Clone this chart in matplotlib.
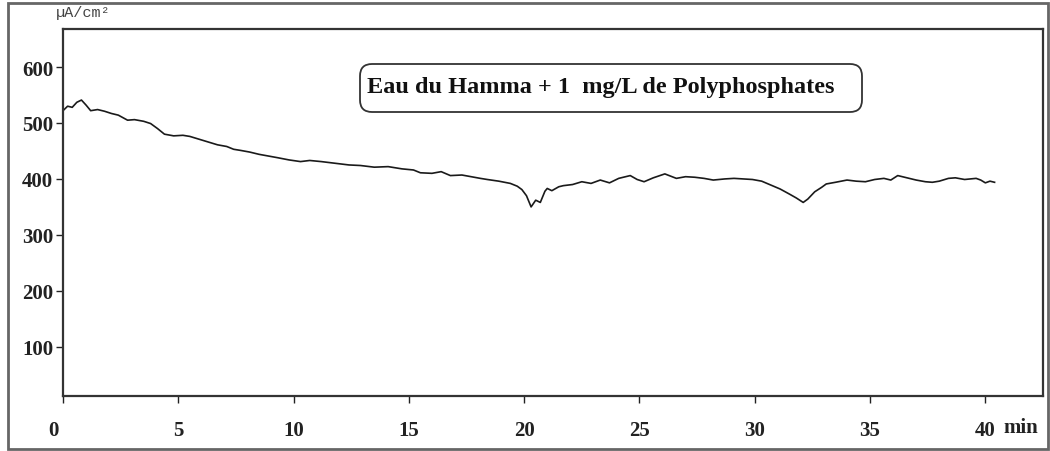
import matplotlib.pyplot as plt
from matplotlib.patches import Rectangle, FancyBboxPatch
from matplotlib.transforms import ScaledTranslation

# current density recorded over time (min, uA/cm2)
time_min = [0.0, 0.2, 0.4, 0.6, 0.8, 1.0, 1.2, 1.5, 1.8, 2.1, 2.4, 2.8, 3.1, 3.5, 3.8,
            4.1, 4.4, 4.8, 5.2, 5.5, 5.9, 6.3, 6.7, 7.1, 7.4, 7.7, 8.1, 8.5, 8.9, 9.3,
            9.8, 10.3, 10.7, 11.2, 11.8, 12.4, 12.9, 13.5, 14.1, 14.7, 15.2, 15.5,
            16.0, 16.4, 16.8, 17.3, 17.7, 18.1, 18.4, 18.9, 19.4, 19.7, 19.9, 20.1,
            20.3, 20.5, 20.7, 20.9, 21.0, 21.2, 21.5, 21.7, 22.1, 22.5, 22.9, 23.3,
            23.7, 24.1, 24.6, 24.9, 25.2, 25.6, 26.1, 26.6, 27.0, 27.4, 27.8, 28.2,
            28.7, 29.1, 29.5, 29.9, 30.3, 30.7, 31.1, 31.5, 31.8, 32.1, 32.3, 32.6,
            32.9, 33.1, 33.5, 34.0, 34.4, 34.8, 35.2, 35.6, 35.9, 36.2, 36.6, 37.0,
            37.4, 37.7, 38.0, 38.4, 38.7, 39.1, 39.6, 39.8, 40.0, 40.2, 40.4]
current = [522, 530, 528, 537, 541, 532, 522, 524, 521, 517, 514, 505, 506, 503, 499,
           490, 480, 477, 478, 476, 471, 466, 461, 458, 453, 451, 448, 444, 441, 438,
           434, 431, 433, 431, 428, 425, 424, 421, 422, 418, 416, 411,
           410, 413, 406, 407, 404, 401, 399, 396, 392, 387, 381, 370,
           350, 362, 358, 378, 383, 379, 386, 388, 390, 395, 392, 398,
           393, 401, 406, 399, 395, 402, 409, 401, 404, 403, 401, 398,
           400, 401, 400, 399, 396, 389, 382, 373, 366, 358, 364, 377,
           385, 391, 394, 398, 396, 395, 399, 401, 398, 406, 402, 398,
           395, 394, 396, 401, 402, 399, 401, 398, 393, 396, 394]

x_ticks = [0, 5, 10, 15, 20, 25, 30, 35, 40]
y_ticks = [100, 200, 300, 400, 500, 600]

serif = ['Liberation Serif', 'DejaVu Serif']

fig = plt.figure(figsize=(10.5, 4.52), dpi=100)
ax = fig.add_axes([63 / 1050, 1 - 397 / 452, (1043 - 63) / 1050, (397 - 30) / 452])

ax.plot(time_min, current, color='#1a1a1a', lw=1.2)

ax.set_xlim(0, 42.5)
ax.set_ylim(12, 668)
ax.set_xticks(x_ticks)
ax.set_yticks(y_ticks)
ax.set_xticklabels([str(t) for t in x_ticks], fontfamily=serif, fontweight='bold', fontsize=15)
ax.set_yticklabels([str(v) for v in y_ticks], fontfamily=serif, fontweight='bold', fontsize=15)
ax.tick_params(axis='x', direction='out', length=5, width=1, pad=12, colors='#222222')
ax.tick_params(axis='y', direction='out', length=5, width=1, pad=2, colors='#222222')

# the "0" sits a little left of its tick
lbl0 = ax.get_xticklabels()[0]
lbl0.set_transform(lbl0.get_transform() + ScaledTranslation(-10 / 100, 0, fig.dpi_scale_trans))

for sp in ax.spines.values():
    sp.set_linewidth(1.6)
    sp.set_color('#333333')

# unit labels
fig.text(1003 / 1050, 1 - 428 / 452, 'min', fontfamily=serif, fontweight='bold',
         fontsize=15, ha='left', va='center', color='#222222')
fig.text(56 / 1050, 1 - 13 / 452, 'µA/cm²', fontfamily='Liberation Mono', fontsize=11,
         ha='left', va='center', color='#444444')

# legend box with the sample description
fig.patches.append(FancyBboxPatch((3.60, 3.39), 5.02, 0.48,
                                  boxstyle='round,pad=0,rounding_size=0.12',
                                  transform=fig.dpi_scale_trans, fc='white',
                                  ec='#333333', lw=1.3, zorder=3))
fig.text(367 / 1050, 1 - 93 / 452, 'Eau du Hamma + 1  mg/L de Polyphosphates',
         fontfamily=serif, fontweight='bold', fontsize=17.5, ha='left', va='baseline',
         color='#111111', zorder=4)

# outer frame around the whole figure
fig.patches.append(Rectangle((8 / 1050, 2 / 452), 1040 / 1050, 446 / 452,
                             transform=fig.transFigure, fill=False,
                             ec='#666666', lw=2))

fig.savefig('out.png', dpi=100)
